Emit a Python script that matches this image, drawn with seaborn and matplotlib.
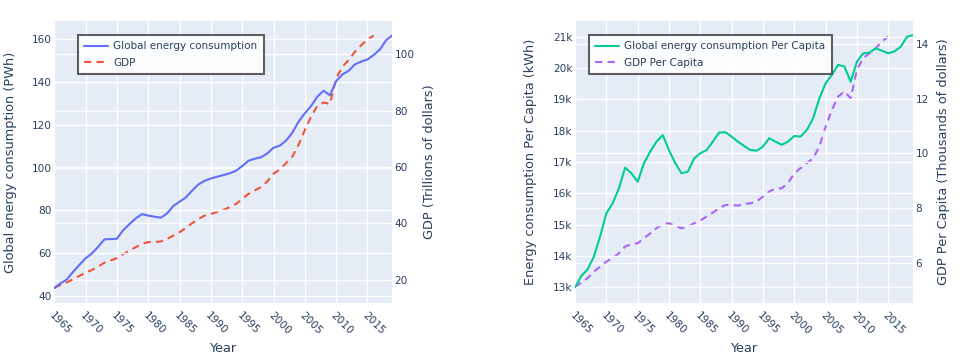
import numpy as np
import matplotlib
matplotlib.use('Agg')
import matplotlib.pyplot as plt
import seaborn as sns
from matplotlib.ticker import FuncFormatter, MultipleLocator

# Data
years = list(range(1965, 2020))
energy = [43.6, 45.8, 47.6, 51.2, 54.4, 57.5, 59.8, 62.9, 66.4, 66.5,
          66.7, 70.7, 73.5, 76.2, 78.2, 77.5, 77.0, 76.5, 78.5, 82.0,
          84.0, 86.0, 89.2, 92.1, 93.8, 94.9, 95.7, 96.5, 97.3, 98.5,
          100.7, 103.2, 104.1, 104.8, 106.6, 109.3, 110.2, 112.6, 116.3, 121.5,
          125.4, 128.8, 133.2, 136.0, 133.8, 140.5, 143.6, 145.3, 148.3, 149.6,
          150.6, 152.7, 155.3, 159.7, 162.0]

gdp_years = list(range(1965, 2017))
gdp = [17.2, 18.2, 19.1, 20.2, 21.4, 22.6, 23.5, 24.7, 26.1, 26.9,
       27.7, 29.1, 30.4, 31.6, 32.8, 33.4, 33.5, 33.6, 34.5, 35.7,
       36.9, 38.4, 40.1, 41.6, 42.8, 43.4, 44.0, 44.8, 45.8, 46.9,
       48.7, 50.5, 51.7, 52.9, 54.9, 57.6, 59.2, 61.4, 63.7, 67.9,
       73.2, 77.9, 81.7, 82.9, 82.4, 91.5, 95.6, 98.0, 100.9, 103.2,
       105.3, 106.6]

energy_pc = [13.00, 13.36, 13.57, 13.98, 14.62, 15.36, 15.68, 16.16, 16.82, 16.64,
             16.37, 16.96, 17.33, 17.65, 17.86, 17.38, 16.96, 16.64, 16.69, 17.11,
             17.28, 17.38, 17.65, 17.94, 17.95, 17.81, 17.65, 17.51, 17.38, 17.36,
             17.49, 17.76, 17.65, 17.55, 17.65, 17.83, 17.81, 18.02, 18.39, 19.03,
             19.51, 19.78, 20.10, 20.05, 19.56, 20.20, 20.47, 20.49, 20.63, 20.55,
             20.47, 20.53, 20.68, 21.00, 21.05]

gdp_pc_years = list(range(1965, 2016))
gdp_pc = [5.10, 5.27, 5.43, 5.67, 5.85, 6.04, 6.16, 6.34, 6.59, 6.67,
          6.71, 6.89, 7.07, 7.26, 7.42, 7.44, 7.34, 7.26, 7.32, 7.44,
          7.54, 7.69, 7.83, 7.99, 8.11, 8.11, 8.09, 8.15, 8.17, 8.24,
          8.42, 8.60, 8.72, 8.72, 8.91, 9.27, 9.46, 9.64, 9.82, 10.25,
          10.98, 11.59, 12.08, 12.27, 12.02, 13.06, 13.49, 13.67, 13.85, 14.10,
          14.28]

BG = '#E5ECF6'
TXT = '#2a3f5f'

sns.set_theme(style='darkgrid', rc={'axes.facecolor': BG, 'grid.color': 'white',
                                    'grid.linewidth': 1.0})
plt.rcParams['font.family'] = ['DejaVu Sans']
plt.rcParams['text.color'] = TXT
plt.rcParams['axes.labelcolor'] = TXT
plt.rcParams['xtick.color'] = TXT
plt.rcParams['ytick.color'] = TXT

fig = plt.figure(figsize=(9.73, 3.62), dpi=100)
fig.patch.set_facecolor('white')

TICK_FS = 7.6
LAB_FS = 9.3
LEG_FS = 7.5


def make_panel(left, y1, y1_label, y1_lim, y1_step, y2, y2_label, y2_lim, y2_step,
               x1, x2, c1, c2, name1, name2, leg_x, y1_fmt=None,
               label_x1=None, label_x2=None):
    # ax2 sits underneath (background + right grid + dashed line),
    # ax sits on top (left grid + solid line + legend)
    ax2 = fig.add_axes([left, 0.163, 0.347, 0.779])
    ax = ax2.twinx()
    ax.yaxis.tick_left()
    ax.yaxis.set_label_position('left')
    ax2.yaxis.tick_right()
    ax2.yaxis.set_label_position('right')
    ax.set_zorder(ax2.get_zorder() + 1)
    ax.patch.set_visible(False)
    ax2.set_facecolor(BG)

    sns.lineplot(x=x2, y=y2, ax=ax2, color=c2, linewidth=1.5,
                 linestyle=(0, (3.5, 2.5)), label=name2, legend=False)
    sns.lineplot(x=x1, y=y1, ax=ax, color=c1, linewidth=1.5,
                 label=name1, legend=False)

    for a in (ax, ax2):
        a.set_xlim(1965, 2018.9)
        for s in a.spines.values():
            s.set_visible(False)
        a.tick_params(length=0)
        a.set_xlabel('')
    ax2.grid(True, axis='both', color='white', linewidth=1.0)
    ax.grid(True, axis='y', color='white', linewidth=1.0)
    ax.grid(False, axis='x')

    ax.set_ylim(*y1_lim)
    ax.yaxis.set_major_locator(MultipleLocator(y1_step))
    if y1_fmt:
        ax.yaxis.set_major_formatter(FuncFormatter(y1_fmt))
    ax2.set_ylim(*y2_lim)
    ax2.yaxis.set_major_locator(MultipleLocator(y2_step))

    ax2.set_xticks(range(1965, 2019, 5))
    ax.tick_params(axis='x', labelbottom=False)
    for lbl in ax2.get_xticklabels():
        lbl.set_rotation(-45)
        lbl.set_ha('left')
        lbl.set_va('top')
        lbl.set_rotation_mode('anchor')
    ax2.tick_params(axis='x', labelsize=TICK_FS, pad=5)
    ax.tick_params(axis='y', labelsize=TICK_FS, pad=2)
    ax2.tick_params(axis='y', labelsize=TICK_FS, pad=2)

    ax.set_ylabel(y1_label, fontsize=LAB_FS)
    ax2.set_ylabel(y2_label, fontsize=LAB_FS)
    ax.yaxis.set_label_coords(label_x1, 0.5)
    ax2.yaxis.set_label_coords(label_x2, 0.5)
    ax2.set_xlabel('Year', fontsize=LAB_FS)
    ax2.xaxis.label.set_va('center')
    ax2.xaxis.set_label_coords(0.5, -0.16)

    h1, l1 = ax.get_legend_handles_labels()
    h2, l2 = ax2.get_legend_handles_labels()
    leg = ax.legend(h1 + h2, l1 + l2, loc='upper left', bbox_to_anchor=(leg_x, 0.95),
                    borderaxespad=0, fontsize=LEG_FS, handlelength=2.3,
                    handletextpad=0.5, borderpad=0.6, labelspacing=0.65,
                    frameon=True, fancybox=False)
    leg.get_frame().set_facecolor('white')
    leg.get_frame().set_alpha(0.85)
    leg.get_frame().set_edgecolor('#444444')
    leg.get_frame().set_linewidth(1.5)
    for t in leg.get_texts():
        t.set_color(TXT)
    return ax, ax2


make_panel(0.0558, energy, 'Global energy consumption (PWh)', (36.6, 168.6), 20,
           gdp, 'GDP (Trillions of dollars)', (11.8, 111.8), 20,
           years, gdp_years, '#636EFA', '#EF553B',
           'Global energy consumption', 'GDP', 0.07,
           label_x1=-0.11, label_x2=1.092)

make_panel(0.591, energy_pc, 'Energy consumption Per Capita (kWh)', (12.5, 21.5), 1,
           gdp_pc, 'GDP Per Capita (Thousands of dollars)', (4.52, 14.85), 2,
           years, gdp_pc_years, '#00CC96', '#AB63FA',
           'Global energy consumption Per Capita', 'GDP Per Capita', 0.0415,
           y1_fmt=lambda v, p: f'{v:.0f}k',
           label_x1=-0.113, label_x2=1.073)

fig.savefig('out.png', dpi=100, facecolor='white')
